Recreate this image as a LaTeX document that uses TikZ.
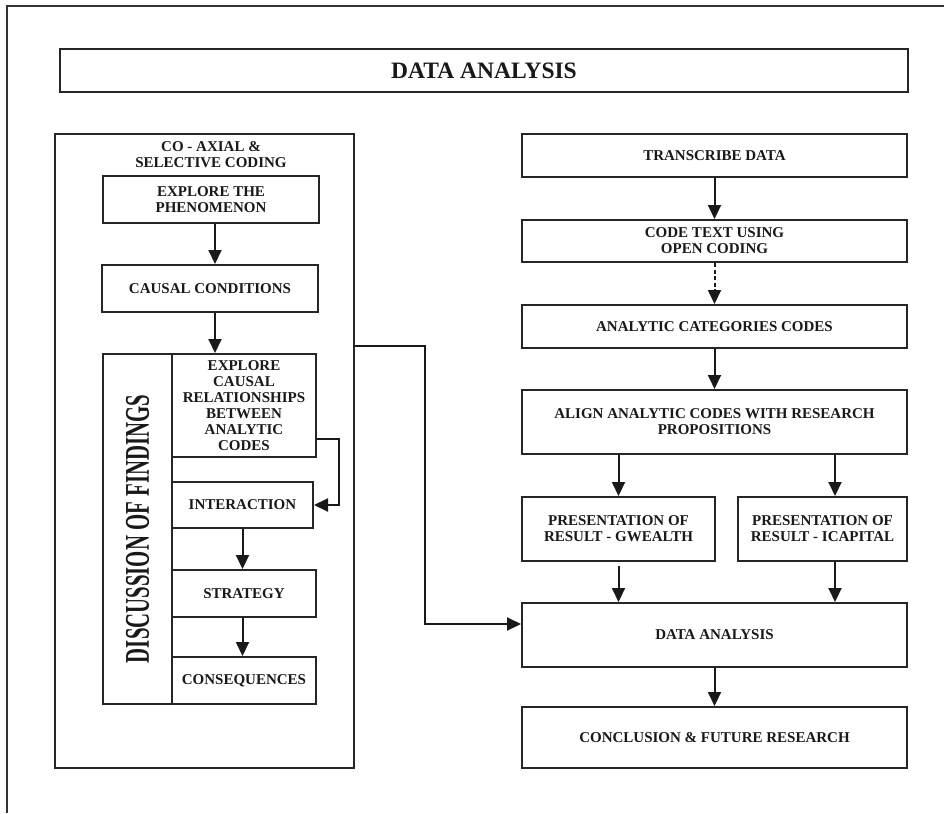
\documentclass[tikz,border=0pt]{standalone}
\usepackage{fontspec}
\setmainfont{Liberation Serif}
\usetikzlibrary{arrows.meta,calc}
\begin{document}
\begin{tikzpicture}[x=1pt,y=-1pt,
  box/.style={draw=black!85, line width=2pt, rectangle, inner sep=0pt, align=center,
    font=\bfseries\fontsize{15}{16}\selectfont, text=black!90},
  arr/.style={draw=black!90, line width=2pt, -{Triangle[length=14pt,width=13pt]}},
  lbl/.style={inner sep=0pt, align=center, font=\bfseries\fontsize{15}{16}\selectfont, text=black!90}
]
\useasboundingbox (0,0) rectangle (944,813);
\fill[white] (0,0) rectangle (944,813);
\draw[line width=2pt, black!80] (7,813) -- (7,6) -- (944,6);

% title
\node[box, minimum width=848, minimum height=43, font=\bfseries\fontsize{23.5}{26}\selectfont] (title) at (484,70.5) {DATA ANALYSIS};

% left column
\node[box, minimum width=299, minimum height=634] (lbox) at (204.5,451) {};
\node[lbl] (lhead) at (211,154.5) {CO - AXIAL \&\\SELECTIVE CODING};
\node[box, minimum width=216, minimum height=47] (phen) at (211,199.5) {EXPLORE THE\\PHENOMENON};
\node[box, minimum width=216, minimum height=47] (causal) at (210,288.5) {CAUSAL CONDITIONS};
\node[box, minimum width=69, minimum height=350] (disc) at (137.5,529)
  {\rotatebox{90}{\scalebox{0.63}[1.05]{\fontsize{33}{33}\selectfont\bfseries DISCUSSION OF FINDINGS}}};
\node[box, minimum width=144, minimum height=103] (ecr) at (244,405.5) {EXPLORE\\CAUSAL\\RELATIONSHIPS\\BETWEEN\\ANALYTIC\\CODES};
\node[box, minimum width=141, minimum height=46] (inter) at (242.5,505) {INTERACTION};
\node[box, minimum width=144, minimum height=47] (strat) at (244,593.5) {STRATEGY};
\node[box, minimum width=144, minimum height=47] (cons) at (244,680.5) {CONSEQUENCES};

% right column
\node[box, minimum width=385, minimum height=43] (trans) at (714.5,155.5) {TRANSCRIBE DATA};
\node[box, minimum width=385, minimum height=42] (code) at (714.5,241) {CODE TEXT USING\\OPEN CODING};
\node[box, minimum width=385, minimum height=43] (anal) at (714.5,326.5) {ANALYTIC CATEGORIES CODES};
\node[box, minimum width=385, minimum height=64] (align) at (714.5,422) {ALIGN ANALYTIC CODES WITH RESEARCH\\PROPOSITIONS};
\node[box, minimum width=193, minimum height=64] (presL) at (618.5,529) {PRESENTATION OF\\RESULT - GWEALTH};
\node[box, minimum width=169, minimum height=64] (presR) at (822.5,529) {PRESENTATION OF\\RESULT - ICAPITAL};
\node[box, minimum width=385, minimum height=64] (da) at (714.5,635) {DATA ANALYSIS};
\node[box, minimum width=385, minimum height=61] (conc) at (714.5,737.5) {CONCLUSION \& FUTURE RESEARCH};

% helper coordinates
\coordinate (ax) at (215,0);
\coordinate (bx) at (835,0);
\coordinate (c1) at (339,439);
\coordinate (c2) at (425,346);
\coordinate (c3) at (425,624);

% left arrows
\draw[arr] (phen.south -| ax) -- (causal.north -| ax);
\draw[arr] (causal.south -| ax) -- (ecr.north -| ax);
\draw[arr] (ecr.east |- c1) -- (c1) -- (c1 |- inter.east) -- (inter.east);
\draw[arr] (inter.south) -- (inter.south |- strat.north);
\draw[arr] (strat.south -| inter.south) -- (cons.north -| inter.south);

% right arrows
\draw[arr] (trans.south) -- (code.north);
\draw[arr, dash pattern=on 4pt off 2.5pt] (code.south) -- (anal.north);
\draw[arr] (anal.south) -- (align.north);
\draw[arr] (align.south -| presL.south) -- (presL.north);
\draw[arr] (align.south -| bx) -- (presR.north -| bx);
\draw[arr] ($(presL.south)+(0,4)$) -- (presL.south |- da.north);
\draw[arr] (presR.south -| bx) -- (da.north -| bx);
\draw[arr] (da.south) -- (conc.north);

% link from left box to data analysis
\draw[arr] (lbox.east |- c2) -- (c2) -- (c3) -- (da.west |- c3);
\end{tikzpicture}
\end{document}
